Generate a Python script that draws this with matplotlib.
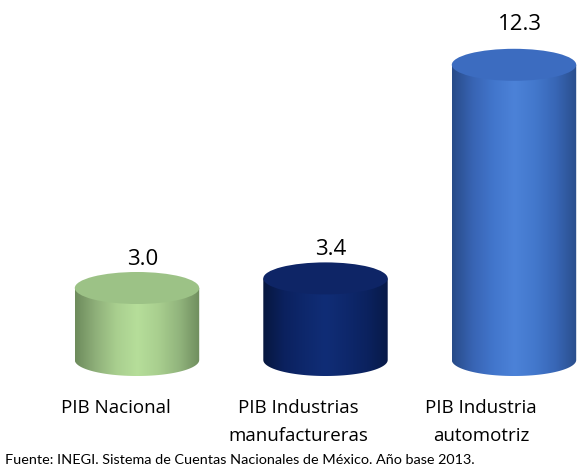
import numpy as np
import matplotlib
matplotlib.use('Agg')
import matplotlib.pyplot as plt
from matplotlib.path import Path
from matplotlib.patches import PathPatch, Ellipse
from matplotlib.colors import LinearSegmentedColormap
from matplotlib import font_manager

categories = ["PIB Nacional", "PIB Industrias\nmanufactureras", "PIB Industria\nautomotriz"]
values = [3.0, 3.4, 12.3]
value_labels = ["3.0", "3.4", "12.3"]
source = "Fuente: INEGI. Sistema de Cuentas Nacionales de México. Año base 2013."

body_colors = [
    ["#6d8b5c", "#8fb07a", "#a9cf8f", "#b6de9a", "#a9cf8f", "#92b57d", "#6f8d5e"],
    ["#07173f", "#0b215e", "#0e286c", "#102d76", "#0e286c", "#0b225f", "#081a48"],
    ["#284b88", "#3864b4", "#4276cc", "#4c82d8", "#4378cc", "#3866b6", "#2a4e8c"],
]
top_colors = ["#9cc286", "#0e2566", "#3c6cc0"]

W, H = 577, 474
fig = plt.figure(figsize=(W / 100, H / 100), dpi=100)
ax = fig.add_axes([0, 0, 1, 1])
ax.set_xlim(-137 / 188.5, (W - 137) / 188.5)
ax.set_ylim(-(H - 360) / 24, 360 / 24)
ax.axis('off')

bw = 0.66    # cylinder width (x units)
eh = 0.667   # ellipse half height (y units)

t = np.linspace(np.pi, 2 * np.pi, 60)
for i, v in enumerate(values):
    x0 = i
    xl, xr = x0 - bw / 2, x0 + bw / 2
    arc = np.column_stack([x0 + bw / 2 * np.cos(t), eh * np.sin(t)])
    verts = np.vstack([[xl, v], arc, [xr, v], [xl, v]])
    codes = [Path.MOVETO] + [Path.LINETO] * (len(verts) - 2) + [Path.CLOSEPOLY]
    path = Path(verts, codes)
    patch = PathPatch(path, facecolor='none', edgecolor='none')
    ax.add_patch(patch)
    cmap = LinearSegmentedColormap.from_list(f"c{i}", body_colors[i])
    grad = np.linspace(0, 1, 256).reshape(1, -1)
    im = ax.imshow(grad, cmap=cmap, extent=[xl, xr, -eh, v], aspect='auto',
                   interpolation='bicubic', zorder=2)
    im.set_clip_path(patch)
    top = Ellipse((x0, v), bw, 2 * eh, facecolor=top_colors[i], edgecolor='none', zorder=3)
    ax.add_patch(top)
    ax.text(x0 + 0.03, v + 1.05 + 0.05 * v, value_labels[i], ha='center', va='center',
            fontsize=16, family='Open Sans', color='#000000')

for i, c in enumerate(categories):
    ax.text(i - 0.11 - 0.033 * i, -(399 - 360) / 24, c, ha='center', va='top',
            fontsize=13.5, family='Open Sans', linespacing=1.7, color='#000000')

src = fig.text(5 / W, 1 - 460 / H, source, ha='left', va='center', fontsize=14,
               family='Lato', color='#000000')
fig.canvas.draw()
wpx = src.get_window_extent().width
src.set_fontsize(src.get_fontsize() * 472.0 / wpx)

fig.savefig('out.png', dpi=100)
